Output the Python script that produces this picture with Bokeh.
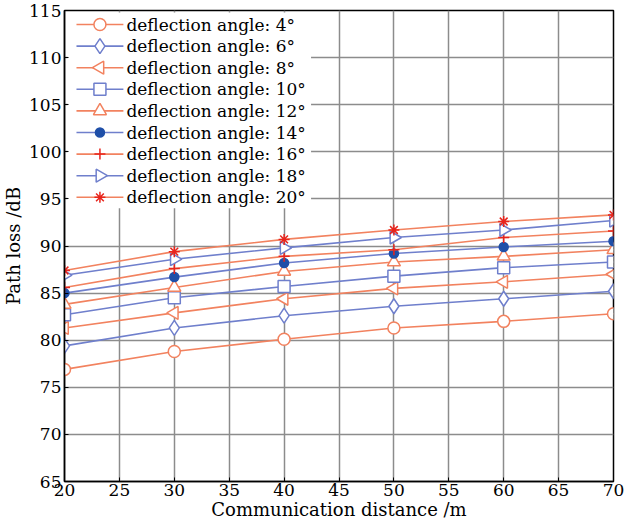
import numpy as np
from bokeh.plotting import figure
from bokeh.models import FixedTicker, Range1d
from bokeh.core.properties import value
from bokeh.embed import file_html
from bokeh.resources import INLINE

distance = [20, 30, 40, 50, 60, 70]
angles = ["4", "6", "8", "10", "12", "14", "16", "18", "20"]
loss_4 = [76.9, 78.8, 80.1, 81.3, 82.0, 82.8]
loss_6 = [79.4, 81.3, 82.6, 83.6, 84.4, 85.2]
loss_8 = [81.3, 82.9, 84.4, 85.5, 86.2, 87.0]
loss_10 = [82.7, 84.5, 85.7, 86.8, 87.7, 88.3]
loss_12 = [83.8, 85.6, 87.3, 88.3, 88.9, 89.6]
loss_14 = [85.0, 86.7, 88.2, 89.2, 89.9, 90.5]
loss_16 = [85.6, 87.6, 88.9, 89.6, 90.9, 91.6]
loss_18 = [86.9, 88.6, 89.8, 90.9, 91.7, 92.7]
loss_20 = [87.4, 89.4, 90.7, 91.7, 92.6, 93.3]
x_ticks = [20, 25, 30, 35, 40, 45, 50, 55, 60, 65, 70]
y_ticks = [65, 70, 75, 80, 85, 90, 95, 100, 105, 110, 115]

ORANGE = "#f2825f"
BLUE = "#6f7fcc"
RED = "#e8241c"
DBLUE = "#1f4fa8"
FONT = "DejaVu Serif"

series = [
    (loss_4, ORANGE, dict(marker="circle", size=12, fill_color="white", line_color=ORANGE)),
    (loss_6, BLUE, dict(marker="diamond", size=15, fill_color="white", line_color=BLUE)),
    (loss_8, ORANGE, dict(marker="triangle", size=13, angle=np.pi / 2, fill_color="white", line_color=ORANGE)),
    (loss_10, BLUE, dict(marker="square", size=12, fill_color="white", line_color=BLUE)),
    (loss_12, ORANGE, dict(marker="triangle", size=13, fill_color="white", line_color=ORANGE)),
    (loss_14, BLUE, dict(marker="circle", size=9, fill_color=DBLUE, line_color=DBLUE)),
    (loss_16, ORANGE, dict(marker="cross", size=11, fill_color=RED, line_color=RED)),
    (loss_18, BLUE, dict(marker="triangle", size=13, angle=-np.pi / 2, fill_color="white", line_color=BLUE)),
    (loss_20, ORANGE, dict(marker="asterisk", size=11, fill_color=RED, line_color=RED)),
]

W, H = 635, 531
BL, BR, BT, BB = 63, 22, 10, 50
FW, FH = W - BL - BR, H - BT - BB

p = figure(width=W, height=H, output_backend="svg", toolbar_location=None,
           x_range=(20, 70), y_range=(65, 115),
           min_border_left=BL, min_border_right=BR, min_border_top=BT, min_border_bottom=BB)
# pixel-based ranges for the legend panel (offsets from the frame's top-left corner)
p.extra_x_ranges = {"px": Range1d(0, FW)}
p.extra_y_ranges = {"py": Range1d(FH, 0)}

for vals, col, mk in series:
    p.line(distance, vals, line_color=col, line_width=1.6)
    p.scatter(distance, vals, line_width=1.5, **mk)

# legend panel
ROW0, ROWH = 14, 21.6
p.quad(left=[3], right=[247], top=[2], bottom=[ROW0 + ROWH * (len(angles) - 1) + 11],
       x_range_name="px", y_range_name="py", fill_color="white", line_color=None)
for i, ((vals, col, mk), ang) in enumerate(zip(series, angles)):
    yy = ROW0 + ROWH * i
    p.line([12, 59], [yy, yy], line_color=col, line_width=1.6,
           x_range_name="px", y_range_name="py")
    p.scatter([35.5], [yy], line_width=1.5, x_range_name="px", y_range_name="py", **mk)
    p.text([62], [yy], text=[f"deflection angle: {ang}°"], x_range_name="px", y_range_name="py",
           text_font=value(FONT), text_font_size="17px", text_color="black",
           text_baseline="middle", text_align="left")

p.xaxis.ticker = FixedTicker(ticks=x_ticks)
p.yaxis.ticker = FixedTicker(ticks=y_ticks)
for ax in (p.xaxis, p.yaxis):
    ax.major_label_text_font = FONT
    ax.major_label_text_font_size = "17px"
    ax.major_label_text_color = "black"
    ax.axis_label_text_font = FONT
    ax.axis_label_text_font_size = "18px"
    ax.axis_label_text_font_style = "normal"
    ax.axis_label_text_color = "black"
    ax.axis_line_color = "black"
    ax.axis_line_width = 1.5
    ax.major_tick_in = 4
    ax.major_tick_out = 0
    ax.minor_tick_line_color = None
    ax.major_tick_line_color = "black"
p.xaxis.axis_label = "Communication distance /m"
p.yaxis.axis_label = "Path loss /dB"
p.xaxis.major_label_standoff = 2
p.yaxis.major_label_standoff = 3
p.xaxis.axis_label_standoff = 0
p.yaxis.axis_label_standoff = 2

p.grid.grid_line_color = "#8c8c8c"
p.grid.grid_line_width = 1.5
p.outline_line_color = "black"
p.outline_line_width = 1.5

open("out.html", "w").write(file_html(p, INLINE))
